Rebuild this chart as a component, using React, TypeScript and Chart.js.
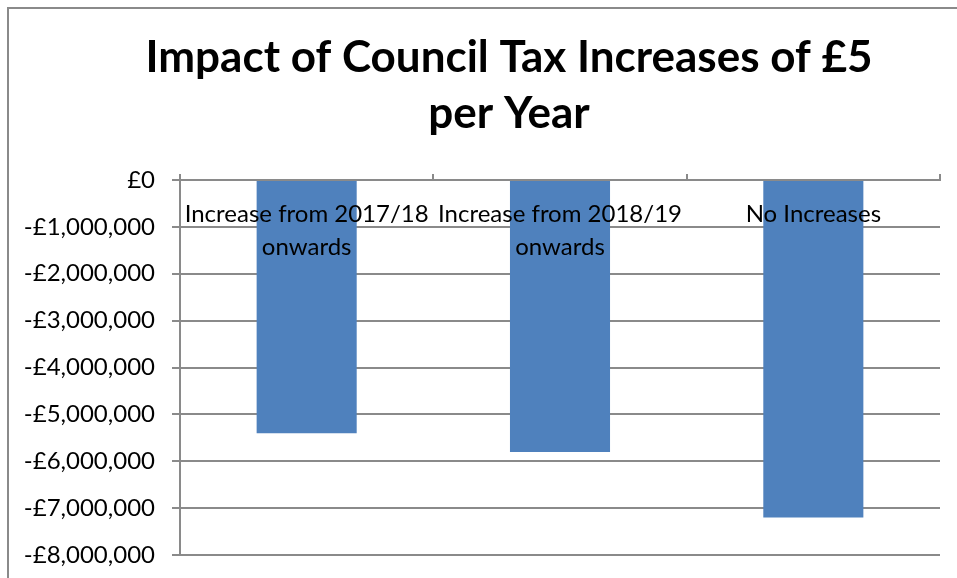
import React, { useEffect, useRef } from "react";
import { Chart, registerables } from "chart.js";

Chart.register(...registerables);

const titleLines = ["Impact of Council Tax Increases of £5", "per Year"];
const categories: string[][] = [
  ["Increase from 2017/18", "onwards"],
  ["Increase from 2018/19", "onwards"],
  ["No Increases"],
];
const values = [-5400000, -5800000, -7200000];
const yMin = -8000000;
const yMax = 0;
const yStep = 1000000;

const FONT = "Lato, 'Open Sans', sans-serif";
const GRID = "#8a8a8a";

const formatMoney = (v: number) => {
  if (v === 0) return "£0";
  const s = Math.abs(v).toLocaleString("en-GB");
  return (v < 0 ? "-£" : "£") + s;
};

const textPlugin = {
  id: "textPlugin",
  afterDatasetsDraw(chart: any) {
    const { ctx, chartArea, scales } = chart;
    const xs = scales.x;
    ctx.save();
    ctx.fillStyle = "#000";
    ctx.textAlign = "center";
    ctx.textBaseline = "middle";
    ctx.font = `24px ${FONT}`;
    categories.forEach((lines, i) => {
      const x = xs.getPixelForValue(i);
      lines.forEach((line, j) => {
        ctx.fillText(line, x, chartArea.top + 34 + j * 33);
      });
    });
    ctx.font = `bold 44px ${FONT}`;
    titleLines.forEach((line, j) => {
      ctx.fillText(line, 509, 58 + j * 56);
    });
    ctx.restore();
  },
};

export default function App() {
  const ref = useRef<HTMLCanvasElement | null>(null);

  useEffect(() => {
    if (!ref.current) return;
    const chart = new Chart(ref.current, {
      type: "bar",
      data: {
        labels: categories.map((c) => c.join(" ")),
        datasets: [
          {
            data: values,
            backgroundColor: "#4F81BD",
            borderWidth: 0,
            categoryPercentage: 1,
            barPercentage: 0.395,
          },
        ],
      },
      options: {
        animation: false,
        responsive: false,
        layout: { padding: { left: 0, right: 17, top: 0, bottom: 23 } },
        plugins: {
          legend: { display: false },
          tooltip: { enabled: false },
          title: { display: false },
        },
        scales: {
          x: {
            position: "top",
            offset: true,
            grid: {
              offset: true,
              drawOnChartArea: false,
              drawTicks: true,
              tickLength: 6,
              color: GRID,
              lineWidth: 2,
            },
            border: { display: true, color: GRID, width: 2 },
            ticks: { display: false },
            afterFit: (s: any) => {
              s.height = 180;
            },
          },
          y: {
            min: yMin,
            max: yMax,
            grid: { color: GRID, lineWidth: 2, tickLength: 8, drawTicks: true },
            border: { display: true, color: GRID, width: 2 },
            ticks: {
              stepSize: yStep,
              padding: 17,
              color: "#000",
              font: { family: FONT, size: 24 },
              callback: (v: any) => formatMoney(Number(v)),
            },
            afterFit: (s: any) => {
              s.width = 180;
              s.paddingTop = 0;
              s.paddingBottom = 0;
            },
          },
        },
      },
      plugins: [textPlugin],
    });
    return () => chart.destroy();
  }, []);

  return (
    <div
      style={{
        position: "fixed",
        left: 0,
        top: 0,
        width: 957,
        height: 578,
        overflow: "hidden",
        background: "#fff",
      }}
    >
      <div
        style={{
          position: "absolute",
          left: 7,
          top: 7,
          width: 2000,
          height: 2000,
          border: `2px solid ${GRID}`,
        }}
      />
      <canvas
        ref={ref}
        width={957}
        height={578}
        style={{ position: "absolute", left: 0, top: 0, width: 957, height: 578 }}
      />
    </div>
  );
}
